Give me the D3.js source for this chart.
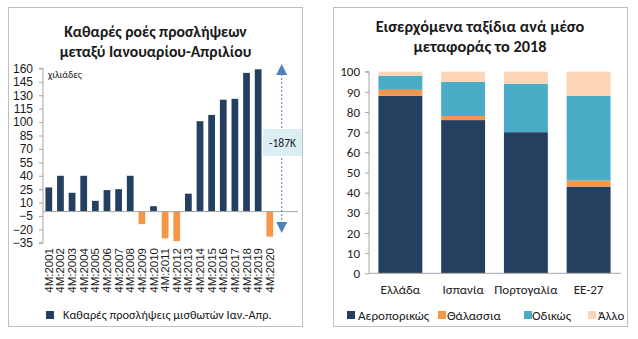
<!DOCTYPE html>
<html><head><meta charset="utf-8">
<script src="https://cdn.jsdelivr.net/npm/d3@7"></script>
<style>
html,body{margin:0;padding:0;background:#fff;}
svg text{font-family:"Carlito","Open Sans","Noto Sans",sans-serif;fill:#1a1a1a;}
svg text.arial{font-family:"Liberation Sans",Arial,sans-serif;}
</style></head>
<body>
<svg id="c" width="638" height="339"></svg>
<script>
// ---- Left chart data ----
const years = ["4M:2001","4M:2002","4M:2003","4M:2004","4M:2005","4M:2006","4M:2007","4M:2008","4M:2009","4M:2010",
  "4M:2011","4M:2012","4M:2013","4M:2014","4M:2015","4M:2016","4M:2017","4M:2018","4M:2019","4M:2020"];
const hires = [27,40,21,40,12,24,25,40,-14,6,-30,-33,20,101,108,125,126,155,159,-28];
const leftTicks = [160,145,130,115,100,85,70,55,40,25,10,-5,-20,-35];
const leftTitle = ["Καθαρές ροές προσλήψεων","μεταξύ Ιανουαρίου-Απριλίου"];
const leftUnit = "χιλιάδες";
const leftLegend = "Καθαρές προσλήψεις μισθωτών Ιαν.-Απρ.";
const annotation = "-187K";

// ---- Right chart data ----
const countries = ["Ελλάδα","Ισπανία","Πορτογαλία","ΕΕ-27"];
const modes = ["Αεροπορικώς","Θάλασσια","Οδικώς","Άλλο"];
const air   = [88,76,70,43];
const sea   = [3,2,0,3];
const road  = [7,17,24,42];
const other = [2,5,6,12];
const rightTicks = [0,10,20,30,40,50,60,70,80,90,100];
const rightTitle = ["Εισερχόμενα ταξίδια ανά μέσο","μεταφοράς το 2018"];

const navy="#243F60", orange="#F79646", teal="#4BACC6", peach="#FBD5B5";
const svg=d3.select("#c");

// panels
svg.append("rect").attr("x",8.5).attr("y",7.5).attr("width",294).attr("height",319).attr("fill","#fff").attr("stroke","#BFBFBF");
svg.append("rect").attr("x",333.5).attr("y",7.5).attr("width",294).attr("height",319).attr("fill","#fff").attr("stroke","#BFBFBF");

// ===== Left chart =====
const yL=d3.scaleLinear().domain([-35,160]).range([242.9,68.4]);
const xL=d3.scaleBand().domain(years).range([43,275.6]).paddingInner(0.42).paddingOuter(0.21);
const gL=svg.append("g");
leftTitle.forEach((t,i)=>gL.append("text").attr("x",155.5).attr("y",37+i*20).attr("text-anchor","middle")
  .attr("font-size",15.7).attr("font-weight","bold").text(t));
const axL=gL.append("g").attr("transform","translate(43,0)")
  .call(d3.axisLeft(yL).tickValues(leftTicks).tickSize(4).tickPadding(6).tickFormat(d3.format("d")));
axL.select(".domain").attr("stroke","#A6A6A6").attr("d","M-4,68.4H0V242.9H-4");
axL.selectAll(".tick line").attr("stroke","#A6A6A6");
axL.selectAll(".tick text").attr("class","arial").attr("font-size",12).attr("fill","#1a1a1a");
gL.append("text").attr("x",48).attr("y",78).attr("font-size",10).text(leftUnit);
gL.selectAll("rect.bar").data(hires).join("rect").attr("class","bar")
  .attr("x",(d,i)=>xL(years[i])).attr("width",xL.bandwidth())
  .attr("y",d=>yL(Math.max(0,d))).attr("height",d=>Math.abs(yL(d)-yL(0)))
  .attr("fill",d=>d<0?orange:navy);
gL.append("line").attr("x1",43).attr("x2",298).attr("y1",yL(0)).attr("y2",yL(0)).attr("stroke","#A6A6A6");
years.forEach(y=>gL.append("text").attr("class","arial").attr("transform",`translate(${xL(y)+xL.bandwidth()/2},248) rotate(-90)`)
  .attr("text-anchor","end").attr("dy","0.35em").attr("font-size",11.5).text(y));
// arrow annotation
const ax=281.7;
gL.append("line").attr("x1",ax).attr("x2",ax).attr("y1",74).attr("y2",224).attr("stroke","#4F81BD").attr("stroke-width",1).attr("stroke-dasharray","2,2");
gL.append("path").attr("d",`M${ax},64L${ax+5.5},75L${ax-5.5},75Z`).attr("fill","#4F81BD");
gL.append("path").attr("d",`M${ax},233L${ax+5.5},222L${ax-5.5},222Z`).attr("fill","#4F81BD");
gL.append("rect").attr("x",263).attr("y",129).attr("width",39).attr("height",27).attr("fill","#DAEEF3");
gL.append("text").attr("x",282.5).attr("y",143).attr("dy","0.35em").attr("text-anchor","middle").attr("font-size",11.5).text(annotation);
// legend
gL.append("rect").attr("x",46).attr("y",311).attr("width",8).attr("height",8).attr("fill",navy);
gL.append("text").attr("x",63).attr("y",319).attr("font-size",12.3).text(leftLegend);

// ===== Right chart =====
const yR=d3.scaleLinear().domain([0,100]).range([273.3,71.7]);
const xR=d3.scaleBand().domain(countries).range([369,620]).paddingInner(0.3).paddingOuter(0.15);
const gR=svg.append("g");
rightTitle.forEach((t,i)=>gR.append("text").attr("x",480).attr("y",32+i*20).attr("text-anchor","middle")
  .attr("font-size",16.3).attr("font-weight","bold").text(t));
const axR=gR.append("g").attr("transform","translate(369,0)")
  .call(d3.axisLeft(yR).tickValues(rightTicks).tickSize(4).tickPadding(5));
axR.select(".domain").attr("stroke","#A6A6A6").attr("d","M-4,71.7H0V273.3");
axR.selectAll(".tick line").attr("stroke","#A6A6A6");
axR.selectAll(".tick text").attr("font-size",13).attr("fill","#1a1a1a");
const table=countries.map((c,i)=>({c,[modes[0]]:air[i],[modes[1]]:sea[i],[modes[2]]:road[i],[modes[3]]:other[i]}));
const stack=d3.stack().keys(modes)(table);
const colors=[navy,orange,teal,peach];
stack.forEach((layer,k)=>{
  gR.selectAll(null).data(layer).join("rect")
    .attr("x",d=>xR(d.data.c)).attr("width",xR.bandwidth())
    .attr("y",d=>yR(d[1])).attr("height",d=>yR(d[0])-yR(d[1]))
    .attr("fill",colors[k]);
});
gR.append("line").attr("x1",369).attr("x2",621).attr("y1",yR(0)).attr("y2",yR(0)).attr("stroke","#A6A6A6");
countries.forEach(c=>gR.append("text").attr("x",xR(c)+xR.bandwidth()/2).attr("y",294).attr("text-anchor","middle").attr("font-size",13).text(c));
const legSq=[347,438,524,588], legTx=[358,447,532,598];
modes.forEach((m,i)=>{
  gR.append("rect").attr("x",legSq[i]).attr("y",311).attr("width",8).attr("height",8).attr("fill",colors[i]);
  gR.append("text").attr("x",legTx[i]).attr("y",319.5).attr("font-size",13).text(m);
});
</script>
</body></html>
